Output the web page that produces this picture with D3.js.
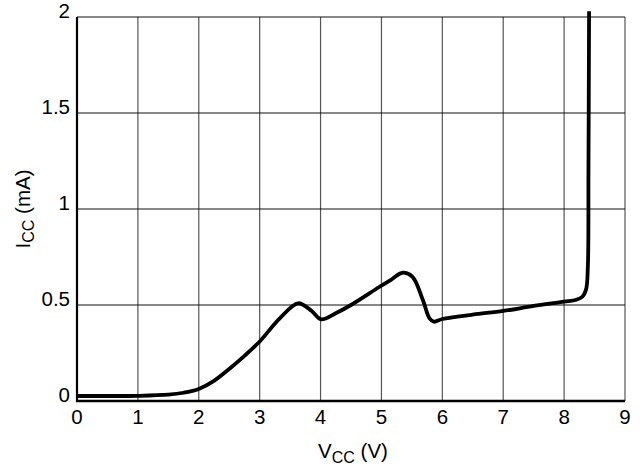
<!DOCTYPE html>
<html>
<head>
<meta charset="utf-8">
<script src="https://cdn.jsdelivr.net/npm/d3@7"></script>
<style>
  html, body { margin: 0; padding: 0; background: #fff; }
  svg { display: block; font-family: "Liberation Sans", Arial, Helvetica, sans-serif; }
</style>
</head>
<body>
<svg id="chart" width="640" height="468"></svg>
<script>
// Data
const vcc = [0, 0.5, 1, 1.5, 1.75, 2, 2.25, 2.5, 2.75, 3, 3.33, 3.63, 3.85, 4.01, 4.25, 4.5, 4.97, 5.15, 5.35, 5.51, 5.68, 5.79, 5.86, 6, 6.5, 7, 7.5, 8, 8.2, 8.3, 8.36, 8.39, 8.40, 8.41];
const icc = [0.026, 0.026, 0.027, 0.033, 0.043, 0.063, 0.105, 0.167, 0.235, 0.31, 0.43, 0.509, 0.47, 0.425, 0.457, 0.50, 0.595, 0.63, 0.668, 0.647, 0.526, 0.43, 0.413, 0.427, 0.45, 0.469, 0.495, 0.517, 0.527, 0.543, 0.58, 0.7, 1.2, 2.03];
const xTicks = [0, 1, 2, 3, 4, 5, 6, 7, 8, 9];
const yTicks = [0, 0.5, 1, 1.5, 2];
const yTickLabels = ["0", "0.5", "1", "1.5", "2"];

const W = 640, H = 468;
const margin = { left: 77, top: 17, right: 15, bottom: 67 };
const svg = d3.select("#chart");

const x = d3.scaleLinear().domain([0, 9]).range([margin.left, W - margin.right]);
const y = d3.scaleLinear().domain([0, 2]).range([H - margin.bottom, margin.top]);

// vertical grid lines
svg.append("g").selectAll("line")
  .data(xTicks.filter(d => d > 0))
  .join("line")
  .attr("x1", d => x(d)).attr("x2", d => x(d))
  .attr("y1", y(0)).attr("y2", y(2))
  .attr("stroke", "#555").attr("stroke-width", 1.2);

// horizontal grid lines
svg.append("g").selectAll("line")
  .data(yTicks.filter(d => d > 0))
  .join("line")
  .attr("x1", x(0)).attr("x2", x(9))
  .attr("y1", d => y(d)).attr("y2", d => y(d))
  .attr("stroke", "#111").attr("stroke-width", 1.2);

// axes lines
svg.append("line")
  .attr("x1", x(0)).attr("x2", x(0)).attr("y1", y(2)).attr("y2", y(0) + 1)
  .attr("stroke", "#000").attr("stroke-width", 2.2);
svg.append("line")
  .attr("x1", x(0) - 1).attr("x2", x(9)).attr("y1", y(0)).attr("y2", y(0))
  .attr("stroke", "#000").attr("stroke-width", 2.5);

// tick labels
svg.append("g").selectAll("text")
  .data(xTicks)
  .join("text")
  .attr("x", d => x(d))
  .attr("y", y(0) + 23)
  .attr("text-anchor", "middle")
  .attr("font-size", 20.5)
  .attr("fill", "#000")
  .text(d => d);

svg.append("g").selectAll("text")
  .data(yTicks)
  .join("text")
  .attr("x", x(0) - 7)
  .attr("y", d => y(d) + 1)
  .attr("text-anchor", "end")
  .attr("font-size", 20.5)
  .attr("fill", "#000")
  .text((d, i) => yTickLabels[i]);

// axis titles
const xt = svg.append("text")
  .attr("x", 353).attr("y", 458)
  .attr("text-anchor", "middle")
  .attr("font-size", 20.5)
  .attr("fill", "#000");
xt.append("tspan").text("V");
xt.append("tspan").attr("font-size", 16).attr("dy", 5).text("CC");
xt.append("tspan").attr("dy", -5).text(" (V)");

const yt = svg.append("text")
  .attr("transform", `translate(30, ${(y(0) + y(2)) / 2}) rotate(-90)`)
  .attr("text-anchor", "middle")
  .attr("font-size", 20.5)
  .attr("fill", "#000");
yt.append("tspan").text("I");
yt.append("tspan").attr("font-size", 16).attr("dy", 4).text("CC");
yt.append("tspan").attr("dy", -4).text(" (mA)");

// curve
const pts = vcc.map((v, i) => [v, icc[i]]);
const line = d3.line()
  .x(d => x(d[0]))
  .y(d => y(d[1]))
  .curve(d3.curveCatmullRom.alpha(0.5));

svg.append("path")
  .datum(pts)
  .attr("d", line)
  .attr("fill", "none")
  .attr("stroke", "#000")
  .attr("stroke-width", 3.8)
  .attr("stroke-linejoin", "round");
</script>
</body>
</html>
